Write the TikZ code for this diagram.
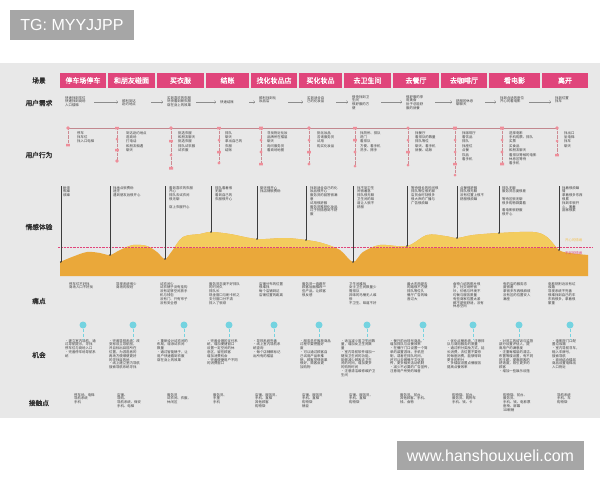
\documentclass[tikz,border=0pt]{standalone}
\usepackage{fontspec}
\usepackage{tikz}

\newfontfamily\cjk{Noto Sans CJK SC}
\newfontfamily\cjkbold[FakeBold=1.5]{Noto Sans CJK SC}
\newfontfamily\arial{Liberation Sans}

\definecolor{panel}{HTML}{E8E8E8}
\definecolor{stagepink}{HTML}{E0457B}
\definecolor{txt}{HTML}{3C3C3C}
\definecolor{arrowgray}{HTML}{8C8C8C}
\definecolor{iconpink}{HTML}{EE8E9A}
\definecolor{emodark}{HTML}{EAA83A}
\definecolor{emolight}{HTML}{F3CC5E}
\definecolor{oppcyan}{HTML}{74D3E0}
\definecolor{tagbg}{HTML}{A6A6A6}

% wavy outline of the emotion band
\newcommand{\moodcurve}{(60,276) -- plot[smooth, tension=0.55] coordinates {(60,262) (72,257) (87,252) (100,253) (110,255) (120,250) (133,245) (147,246) (157,252) (165,259) (172,251) (183,237) (200,234) (211,232) (230,234) (257,239) (285,238) (306,240) (322,243) (340,250) (353,262) (363,252) (380,245) (407,246) (427,235) (445,236) (457,238) (473,235) (499,233) (533,232) (547,237) (559,250) (570,253) (588,255)} -- (588,276) -- cycle}

\begin{document}
\begin{tikzpicture}[x=1pt, y=-1pt,
  stagecell/.style={fill=stagepink, text=white, minimum height=15pt, inner sep=0pt, font=\cjkbold\fontsize{7}{8}\selectfont},
  rowname/.style={text=txt!80!black, font=\cjkbold\fontsize{6.7}{8}\selectfont},
  cardtext/.style={text=txt, align=left, inner sep=0pt, anchor=north west, font=\cjk\fontsize{3.4}{3.8}\selectfont},
  actiontext/.style={cardtext, font=\cjk\fontsize{3.4}{4.4}\selectfont},
  needtext/.style={cardtext, text width=26pt},
  needarrow/.style={->, arrowgray, line width=0.35pt, shorten <=3pt, shorten >=4pt},
  iconline/.style={densely dotted, iconpink!70!gray, line width=0.3pt},
  moodstem/.style={txt, line width=0.35pt},
  pindot/.style={circle, fill=oppcyan, minimum size=7pt, inner sep=0pt},
  pindash/.style={densely dashed, oppcyan, line width=0.3pt},
  tagbox/.style={fill=tagbg, text=white, inner sep=0pt, font=\arial\fontsize{16}{18}\selectfont}]

\useasboundingbox (0,0) rectangle (600,480);

% Watermark boxes
\node[tagbox, minimum width=124pt, minimum height=30pt] (tg) at (72,25) {TG: MYYJJPP};
\node[tagbox, minimum width=187pt, minimum height=29pt] (site) at (490.5,455.5) {www.hanshouxueli.com};

% Grey panel
\fill[panel] (0,63) rectangle (600,418);

% Row names
\node[rowname] (r1) at (39,80.5) {场景};
\node[rowname] (r2) at (39,103) {用户需求};
\node[rowname] (r3) at (39,155) {用户行为};
\node[rowname] (r4) at (39,227) {情感体验};
\node[rowname] (r5) at (39,301) {痛点};
\node[rowname] (r6) at (39,355) {机会};
\node[rowname] (r7) at (39,403) {接触点};

% Stage headers
\node[stagecell, minimum width=46pt] (s1) at (83,80.5) {停车场停车};
\node[stagecell, minimum width=47pt] (s2) at (131.5,80.5) {和朋友碰面};
\node[stagecell, minimum width=47pt] (s3) at (180.5,80.5) {买衣服};
\node[stagecell, minimum width=43pt] (s4) at (227.5,80.5) {结账};
\node[stagecell, minimum width=46pt] (s5) at (274,80.5) {找化妆品店};
\node[stagecell, minimum width=43pt] (s6) at (320.5,80.5) {买化妆品};
\node[stagecell, minimum width=47pt] (s7) at (367.5,80.5) {去卫生间};
\node[stagecell, minimum width=46pt] (s8) at (416,80.5) {去餐厅};
\node[stagecell, minimum width=46pt] (s9) at (464,80.5) {去咖啡厅};
\node[stagecell, minimum width=51pt] (s10) at (514.5,80.5) {看电影};
\node[stagecell, minimum width=46pt] (s11) at (565,80.5) {离开};

% User needs
\node[needtext] (n1) at (65,96) {快速找到车位\\快速找到商场\\入口楼梯};
\node[needtext] (n2) at (122,99) {顺利到达\\赴约地点};
\node[needtext] (n3) at (167,96) {买到喜欢的衣服\\尽快看到新衣服\\穿在身上的效果};
\node[needtext] (n4) at (220,100.5) {快速结账};
\node[needtext] (n5) at (259,96) {顺利找到化\\妆品店};
\node[needtext] (n6) at (307,96) {买到适合自\\己的化妆品};
\node[needtext] (n7) at (352,95) {很快找到卫\\生间\\很舒服的方\\便};
\node[needtext] (n8) at (406,95) {很舒服的享\\用美食\\肚子总能舒\\服的就餐};
\node[needtext] (n9) at (456,99) {舒服的休息\\聊聊天};
\node[needtext] (n10) at (500,96) {找到合适的座位\\开心的看电影};
\node[needtext] (n11) at (555,96) {找到位置\\找车};

\coordinate (ny) at (0,102);
\draw[needarrow] (n1.east |- ny) -- (n2.west |- ny);
\draw[needarrow] (n2.east |- ny) -- (n3.west |- ny);
\draw[needarrow] (n3.east |- ny) -- (n4.west |- ny);
\draw[needarrow] (n4.east |- ny) -- (n5.west |- ny);
\draw[needarrow] (n5.east |- ny) -- (n6.west |- ny);
\draw[needarrow] (n6.east |- ny) -- (n7.west |- ny);
\draw[needarrow] (n7.east |- ny) -- (n8.west |- ny);
\draw[needarrow] (n8.east |- ny) -- (n9.west |- ny);
\draw[needarrow] (n9.east |- ny) -- (n10.west |- ny);
\draw[needarrow] (n10.east |- ny) -- (n11.west |- ny);

% User actions: icon strip
\draw[iconpink!60!gray, line width=0.3pt] (68,128) -- (557,128);
\draw[iconline] (68,128) -- (68,145);
\draw[iconline] (117,128) -- (117,161);
\draw[iconline] (171,128) -- (171,168);
\draw[iconline] (219,128) -- (219,163);
\draw[iconline] (261,128) -- (261,164);
\draw[iconline] (309,128) -- (309,164);
\draw[iconline] (355,128) -- (355,166);
\draw[iconline] (408,128) -- (408,165);
\draw[iconline] (455,128) -- (455,175);
\draw[iconline] (502,128) -- (502,164);
\draw[iconline] (557,128) -- (557,155);
\fill[iconpink] (68,128) circle (1.9) (66.2,143.8) rectangle (69.8,146.4);
\fill[iconpink] (115.2,126.8) rectangle (118.8,129.4) (117,139) circle (1.5) (115.2,148.8) rectangle (118.8,151.4) (117,161) circle (1.9);
\fill[iconpink] (171,128) circle (1.9) (169.2,139.8) rectangle (172.8,142.4) (171,155) circle (1.5) (169,166.8) rectangle (173,169.6);
\fill[iconpink] (217.2,126.8) rectangle (220.8,129.4) (219,140) circle (1.5) (217.2,150.8) rectangle (220.8,153.4) (219,163) circle (1.7);
\fill[iconpink] (259.2,126.6) rectangle (262.8,129.6) (261,140) circle (1.5) (261,152) circle (1.7) (259.2,162.8) rectangle (262.8,165.4);
\fill[iconpink] (309,128) circle (1.9) (309,140) circle (1.5) (307.2,150.8) rectangle (310.8,153.4) (309,164) circle (1.7);
\fill[iconpink] (353.2,126.8) rectangle (356.8,129.4) (353.2,138.8) rectangle (356.8,141.4) (355,152) circle (1.7) (355,166) circle (1.5);
\fill[iconpink] (408,128) circle (1.7) (408,140) circle (1.5) (406.2,150.8) rectangle (409.8,153.4) (408,165) circle (1.5);
\fill[iconpink] (453.2,126.6) rectangle (456.8,129.6) (455,140) circle (1.5) (455,152) circle (1.5) (453.2,162.8) rectangle (456.8,165.4) (455,175) circle (1.5);
\fill[iconpink] (500.2,126.6) rectangle (503.8,129.6) (502,140) circle (1.5) (502,152) circle (1.7) (500,162.6) rectangle (504,165.4);
\fill[iconpink] (557,128) circle (1.9) (557,141) circle (1.5) (555.2,153.8) rectangle (558.8,156.4);

% User actions: text
\node[actiontext] (a1) at (77,131) {停车\\找车位\\找入口电梯};
\node[actiontext] (a2) at (126,131) {到达赴约地点\\逛商场\\打电话\\和朋友相遇\\聊天};
\node[actiontext] (a3) at (178,131) {挑选衣服\\和朋友聊天\\挑选衣服\\排队试衣服\\试衣服};
\node[actiontext] (a4) at (225,131) {排队\\聊天\\拿出自己的\\衣服\\结账};
\node[actiontext] (a5) at (267,131) {寻找附近化妆\\品牌所在楼层\\聊天\\询问服务员\\看商场地图};
\node[actiontext] (a6) at (317,131) {挑化妆品\\咨询服务员\\试用\\购买化妆品};
\node[actiontext] (a7) at (360,131) {找厕所、排队\\进门\\看排队\\方便、看手机\\洗手、擦手};
\node[actiontext] (a8) at (415,131) {找餐厅\\看排队的数量\\排队等位\\聊天、看手机\\就餐、结账};
\node[actiontext] (a9) at (462,131) {找咖啡厅\\看饮品\\排队\\找座位\\点餐\\饮品\\看手机};
\node[actiontext] (a10) at (509,131) {选择电影\\手机购票、排队\\买票\\买食品\\和朋友聊天\\看排队等候的电影\\休息区等待\\看手机};
\node[actiontext] (a11) at (564,131) {找出口\\坐电梯\\找车\\聊天};

% Emotion band
\fill[emodark] \moodcurve;
\begin{scope}
  \clip (55,200) rectangle (595,247);
  \fill[emolight] \moodcurve;
\end{scope}
\draw[stagepink, densely dotted, line width=0.45pt] (58,247) -- (592,247);
\node[cardtext, anchor=west, text=emolight!85!orange] (happy) at (565,240) {开心的情绪};
\node[cardtext, anchor=west, text=stagepink] (unhappy) at (565,253.5) {不好的情绪};

% Emotion notes
\node[cardtext] (e1) at (63,186) {耐烦\\焦躁\\烦躁};
\node[cardtext] (e2) at (113,186) {找地点很费劲\\迷茫\\遇到朋友后很开心};
\node[cardtext] (e3) at (169,186) {看到喜欢的衣服\\开心\\排队去试衣间\\很无聊\\\\穿上衣服开心};
\node[cardtext] (e4) at (215,186) {排队看着很\\无聊\\看到自己的\\衣服很开心};
\node[cardtext] (e5) at (260,186) {聊天很开心\\找店铺很费劲};
\node[cardtext] (e6) at (310,186) {找到适合自己的化\\妆品很开心\\服务员的回答很满\\意\\试用很舒服\\服务员推荐化妆品\\过于热情感到不舒\\服};
\node[cardtext] (e7) at (357,186) {找不到卫生\\间很着急\\排队很无聊\\卫生间的味\\道让人很不\\舒服};
\node[cardtext] (e8) at (411,186) {等待很长的时间很\\排队等位很无聊\\店员会时刻很多\\很大声的广播与\\广告很烦躁};
\node[cardtext] (e9) at (460,186) {点餐很舒服\\排队很无聊\\没有位置上很不\\舒服很烦躁};
\node[cardtext] (e10) at (502,186) {排队无聊\\服务员态度很差\\\\等待区很无聊\\很多购物袋要看\\\\看电影很舒服\\很开心};
\node[cardtext] (e11) at (562,186) {找着很烦躁\\情\\拿着很多东西\\很累\\找到车很开\\心，搬着\\回家很累};

\coordinate (m1) at (60.7,262);
\coordinate (m2) at (110,255);
\coordinate (m3) at (165,259);
\coordinate (m4) at (211,232);
\coordinate (m5) at (257,239);
\coordinate (m6) at (306,240);
\coordinate (m7) at (353,262);
\coordinate (m8) at (407,246);
\coordinate (m9) at (457,238);
\coordinate (m10) at (499,233);
\coordinate (m11) at (559,250);
\draw[moodstem] (m1 |- e1.north) -- (m1);
\draw[moodstem] (m2 |- e2.north) -- (m2);
\draw[moodstem] (m3 |- e3.north) -- (m3);
\draw[moodstem] (m4 |- e4.north) -- (m4);
\draw[moodstem] (m5 |- e5.north) -- (m5);
\draw[moodstem] (m6 |- e6.north) -- (m6);
\draw[moodstem] (m7 |- e7.north) -- (m7);
\draw[moodstem] (m8 |- e8.north) -- (m8);
\draw[moodstem] (m9 |- e9.north) -- (m9);
\draw[moodstem] (m10 |- e10.north) -- (m10);
\draw[moodstem] (m11 |- e11.north) -- (m11);
\fill[txt] (m1) circle (0.8) (m2) circle (0.8) (m3) circle (0.8) (m4) circle (0.8) (m5) circle (0.8) (m6) circle (0.8)
  (m7) circle (0.8) (m8) circle (0.8) (m9) circle (0.8) (m10) circle (0.8) (m11) circle (0.8);

% Pain points
\node[cardtext] (p1) at (69,282) {停车位不好找\\商场入口不好找};
\node[cardtext] (p2) at (116,282) {导视系统很少\\商场的规划};
\node[cardtext] (p3) at (160,282) {试衣间少\\试衣镜子没有挂钩\\没有足够空间放手\\机与钱包\\没有门、只有帘子\\没有安全感};
\node[cardtext] (p4) at (209,282) {服务员态度不好排队\\的时间久\\排队长\\现金窗口与刷卡机之\\支付窗口分不清\\排入了很烦};
\node[cardtext] (p5) at (259,282) {店铺分布的位置\\很难找\\每个店铺到达\\店铺位置的距离};
\node[cardtext] (p6) at (302,282) {服务员一直跟在\\顾客后面推荐一\\些产品，让顾客\\很反感};
\node[cardtext] (p7) at (349,282) {卫生间难找\\女士卫生间数量少\\需排队\\异味的马桶无人维\\修\\不卫生、味道不好};
\node[cardtext] (p8) at (407,282) {最大东西是去\\的路很不方便\\排队等位久\\餐厅广告的噪\\音过大};
\node[cardtext] (p9) at (453,282) {食物介绍的图片很\\多，社交场所很\\吵，价格与环境不\\均衡与服务质量\\有些商家位置太紧\\都不是很舒适，没有\\休息空间};
\node[cardtext] (p10) at (503,282) {有的店的服务态\\度很差\\拿很多东西很麻烦\\没有区的位置安人\\满座};
\node[cardtext] (p11) at (548,282) {电影院附近没有垃\\圾箱\\导视系统不完善\\很难找到自己的车\\东西很多，拿着很\\繁重};

% Opportunities
\node[cardtext] (o1) at (65,339) {•建立室内导航，通\\过导航提示，寻找\\停车位与商场入口\\•完善停车场导航系\\统};
\node[cardtext] (o2) at (109,339) {•完善导视系统，改\\变标设立导航图，\\并且标出目前所在\\位置，为游逛者的\\再场方便顺便更好\\的寻找目的地\\•线上建立室内导航\\搜索导航系统寻找};
\node[cardtext] (o3) at (157,339) {•重新设计试衣间的\\布局，增添试衣间\\数量\\•通过智能镜子，让\\用户快速看到衣服\\穿在身上的效果};
\node[cardtext] (o4) at (207,339) {•完善合理的支付系\\统，增加便捷窗口\\设置一定空间的休\\息区，留住顾客\\增加消费机会\\•完善便捷用户不同\\的消费窗口};
\node[cardtext] (o5) at (253,339) {•导视系统完善\\•线上室内导航系\\统查询\\•每个店铺都标记\\出所有的楼层};
\node[cardtext] (o6) at (300,339) {•服务员在推荐商品\\过程中要把握好\\度\\•可以通过顾客自\\己试用产品来推\\销，顾客觉得效果\\很好，顾客会更\\加购物};
\node[cardtext] (o7) at (341,339) {•适当减少男卫生间数\\量，增加女卫生间数\\量\\•室内导航软件增加一\\键找卫生间的功能，\\能够减少顾客去卫生\\间的时间，增加更多\\的购物时间\\•注意清洁维修维护卫\\生间};
\node[cardtext] (o8) at (390,339) {•餐厅前台排号商品，\\增加排队与点餐效率\\•在餐厅门口设置一个简\\单的装置游戏，手机控\\制，或者在排队时间，\\还可以去做餐厅文化宣\\传，更多相关活动机制\\•减少不必要的广告宣传，\\注意用户所受的噪音};
\node[cardtext] (o9) at (447,339) {•优化点餐系统，注意排\\队与商用服务的质量\\•通过积分奖励方式，延\\长消费，去位置不要你\\的每座消费，能够得到\\更多的积分\\•多楼层设置点餐服务\\提高点餐效率};
\node[cardtext] (o10) at (499,339) {•对员工的培训与监督\\部分设置评估人，提\\高用户的满意度\\•注重每楼层的清洁、\\布置等楼设置，有不同\\的主题，提高顾客的\\舒适度，吸引更多的\\顾客\\•增加一些娱乐设施};
\node[cardtext] (o11) at (552,339) {•电影院门口配\\置垃圾箱\\•室内导航寻车，\\输入车牌号，\\搜索导航\\•商场结合楼层\\商品设置电梯出\\入口附近};

% Opportunity markers
\node[pindot] (d1) at (83,325) {};
\node[pindot] (d2) at (133,325) {};
\node[pindot] (d3) at (184,325) {};
\node[pindot] (d4) at (229,325) {};
\node[pindot] (d5) at (274,325) {};
\node[pindot] (d6) at (319,325) {};
\node[pindot] (d7) at (367,325) {};
\node[pindot] (d8) at (423,325) {};
\node[pindot] (d9) at (473,325) {};
\node[pindot] (d10) at (519,325) {};
\node[pindot] (d11) at (570,325) {};
\draw[pindash] (d1) -- (d1 |- o1.north);
\draw[pindash] (d2) -- (d2 |- o2.north);
\draw[pindash] (d3) -- (d3 |- o3.north);
\draw[pindash] (d4) -- (d4 |- o4.north);
\draw[pindash] (d5) -- (d5 |- o5.north);
\draw[pindash] (d6) -- (d6 |- o6.north);
\draw[pindash] (d7) -- (d7 |- o7.north);
\draw[pindash] (d8) -- (d8 |- o8.north);
\draw[pindash] (d9) -- (d9 |- o9.north);
\draw[pindash] (d10) -- (d10 |- o10.north);
\draw[pindash] (d11) -- (d11 |- o11.north);

% Touch points
\node[cardtext] (t1) at (74,393) {停车场、电梯\\导航系统\\手机};
\node[cardtext] (t2) at (117,393) {店铺、\\导购、\\导航系统、保安\\手机、电梯};
\node[cardtext] (t3) at (167,393) {服务员\\试衣间、衣服、\\休闲区};
\node[cardtext] (t4) at (213,393) {服务员、\\手里\\手机};
\node[cardtext] (t5) at (255,393) {店铺、服务员、\\手机、直梯\\其他顾客\\购物袋};
\node[cardtext] (t6) at (302,393) {店铺、服务员\\手机、直梯\\购物袋\\镜臣};
\node[cardtext] (t7) at (349,393) {店铺、服务员、\\手机、直梯\\购物袋};
\node[cardtext] (t8) at (400,393) {服务员、前台、\\其他顾客、手机、\\钱、食物};
\node[cardtext] (t9) at (452,393) {购物袋、前台、\\服务员、购物车\\手机、钱、卡};
\node[cardtext] (t10) at (503,393) {购物袋、前台、\\服务员、\\手机、钱、电影票\\座椅、屏幕\\3D眼镜};
\node[cardtext] (t11) at (557,393) {导航系统\\手机、车\\购物袋};

\end{tikzpicture}
\end{document}
